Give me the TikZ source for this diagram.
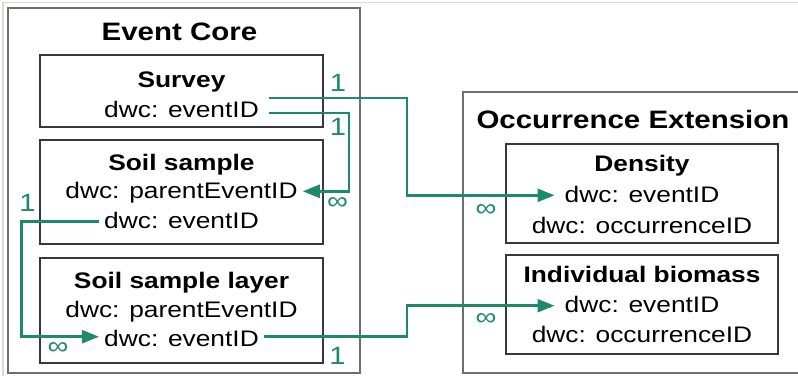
\documentclass[tikz,border=0pt]{standalone}
\usepackage{fontspec}
\setmainfont{Liberation Sans}[FakeStretch=1.17]
\usetikzlibrary{arrows.meta,calc}
\definecolor{Frame}{HTML}{6F6F6F}
\definecolor{Edge}{HTML}{383838}
\definecolor{Link}{HTML}{1E8A6B}
\definecolor{Page}{HTML}{DCDCD6}
\tikzset{group/.style={draw=Frame,line width=2.4pt},entity/.style={draw=Edge,line width=1.6pt},grouptitle/.style={font=\bfseries\fontsize{25.2}{30}\selectfont,anchor=base,inner sep=0pt},entitytitle/.style={font=\bfseries\fontsize{22.5}{27}\selectfont,anchor=base,inner sep=0pt},field/.style={font=\fontsize{22.5}{27}\selectfont,anchor=base,text height=16pt,text depth=2pt,inner ysep=0pt,inner xsep=5pt},link/.style={-{Triangle[length=17pt,width=13pt]},line width=2.5pt,draw=Link},card/.style={text=Link,font=\fontsize{25}{30}\selectfont,inner sep=0pt}}
\begin{document}
\begin{tikzpicture}[x=1pt,y=-1pt]
        \useasboundingbox (0,0) rectangle (798,376);
        \clip (0,0) rectangle (798,376);
        \draw[Page,line width=1.5pt] (3,376) -- (3,2.5) -- (798,2.5);
        % event core
        \node[group,minimum width=352pt,minimum height=365pt] (core) at (184,190.5){};
        \node[grouptitle] (coretitle) at (179.5,40.7){Event Core};
        \node[entity,minimum width=283pt,minimum height=72pt] (survey) at (181.5,91){};
        \node[entitytitle] (surveytitle) at (181.5,87){Survey};
        \node[field,inner xsep=10pt] (sid) at (181.5,117){dwc: eventID};
        \node[entity,minimum width=283pt,minimum height=104pt] (soil) at (181.5,192){};
        \node[entitytitle] (soiltitle) at (181.5,170){Soil sample};
        \node[field] (spid) at (181.5,198.3){dwc: parentEventID};
        \node[field] (seid) at (181.5,228.3){dwc: eventID};
        \node[entity,minimum width=283pt,minimum height=105pt] (layer) at (181.5,310.5){};
        \node[entitytitle] (layertitle) at (181.5,288.3){Soil sample layer};
        \node[field] (lpid) at (181.5,317.3){dwc: parentEventID};
        \node[field] (leid) at (181.5,346.7){dwc: eventID};
        % occurrence extension
        \node[group,minimum width=342pt,minimum height=281pt] (occ) at (634,232.5){};
        \node[grouptitle] (occtitle) at (633,128){Occurrence Extension};
        \node[entity,minimum width=272pt,minimum height=99pt] (density) at (642,193.5){};
        \node[entitytitle] (densitytitle) at (642,171.7){Density};
        \node[field,inner xsep=10pt] (did) at (642,202.3){dwc: eventID};
        \node[field] (docc) at (642,233.3){dwc: occurrenceID};
        \node[entity,minimum width=272pt,minimum height=99pt] (biomass) at (642,304.5){};
        \node[entitytitle] (biomasstitle) at (642,282.7){Individual biomass};
        \node[field,inner xsep=10pt] (bid) at (642,312.7){dwc: eventID};
        \node[field] (bocc) at (642,342.7){dwc: occurrenceID};
        % links
        \coordinate (busL) at (21.7,0);
        \coordinate (busM) at (349,0);
        \coordinate (busR) at (407,0);
        \coordinate (sidhi) at ($(sid.east)+(0,-12)$);
        \coordinate (sidlo) at ($(sid.east)+(0,3)$);
        \coordinate (leidin) at ($(leid.west)+(0,-3)$);
        \coordinate (leidout) at ($(leid.east)+(0,-3)$);
        \draw[link] (sidhi) -- (sidhi -| busR) |- (did.west);
        \draw[link] (sidlo) -- (sidlo -| busM) |- (spid.east);
        \draw[link] (seid.west) -- (seid.west -| busL) |- (leidin);
        \draw[link] (leidout) -- (leidout -| busR) |- (bid.west);
        \node[card] (c1) at (338,82.5){1};
        \node[card] (c2) at (338,126.5){1};
        \node[card] (c3) at (337.5,203){∞};
        \node[card] (c4) at (27.5,203.2){1};
        \node[card] (c5) at (58,348){∞};
        \node[card] (c6) at (337.5,356){1};
        \node[card] (c7) at (486,210){∞};
        \node[card] (c8) at (486,319){∞};
      \end{tikzpicture}
\end{document}
